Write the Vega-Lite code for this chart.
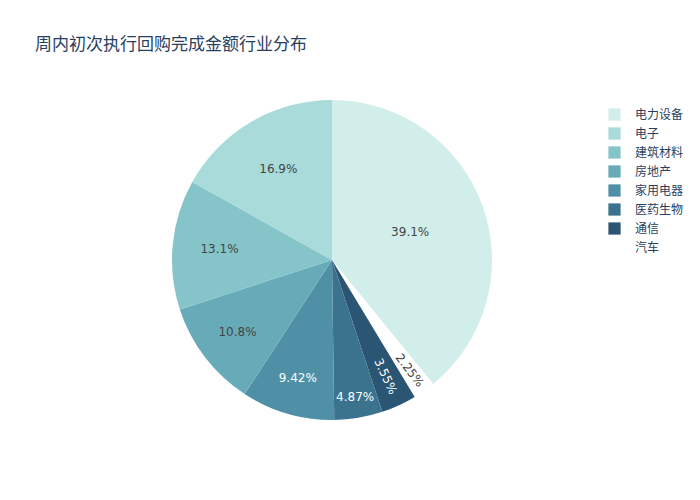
{
  "$schema": "https://vega.github.io/schema/vega-lite/v6.json",
  "description": "周内初次执行回购完成金额行业分布",
  "background": "white",
  "autosize": "none",
  "width": 400,
  "height": 400,
  "padding": {"left": 132, "top": 60, "right": 168, "bottom": 40},
  "title": {
    "text": "周内初次执行回购完成金额行业分布",
    "anchor": "start",
    "frame": "group",
    "dx": -97,
    "dy": -2,
    "font": "Noto Sans CJK SC",
    "fontSize": 17,
    "fontWeight": "normal",
    "color": "#2a3f5f"
  },
  "data": {
    "values": [
      {"industry": "电力设备", "share": 39.1, "order": 1, "label": "39.1%"},
      {"industry": "汽车", "share": 2.25, "order": 2, "label": "2.25%"},
      {"industry": "通信", "share": 3.55, "order": 3, "label": "3.55%"},
      {"industry": "医药生物", "share": 4.87, "order": 4, "label": "4.87%"},
      {"industry": "家用电器", "share": 9.42, "order": 5, "label": "9.42%"},
      {"industry": "房地产", "share": 10.8, "order": 6, "label": "10.8%"},
      {"industry": "建筑材料", "share": 13.1, "order": 7, "label": "13.1%"},
      {"industry": "电子", "share": 16.9, "order": 8, "label": "16.9%"}
    ]
  },
  "encoding": {
    "theta": {"field": "share", "type": "quantitative", "stack": true},
    "order": {"field": "order", "type": "quantitative"}
  },
  "layer": [
    {
      "mark": {"type": "arc", "outerRadius": 160, "stroke": null},
      "encoding": {
        "color": {
          "field": "industry",
          "type": "nominal",
          "scale": {
            "domain": ["电力设备", "电子", "建筑材料", "房地产", "家用电器", "医药生物", "通信", "汽车"],
            "range": ["#d1eeea", "#a8dbd9", "#85c4c9", "#68abb8", "#4f90a6", "#3b738f", "#2a5674", "#ffffff"]
          },
          "legend": {
            "title": null,
            "orient": "none",
            "legendX": 476,
            "legendY": 48,
            "symbolType": "square",
            "symbolSize": 150,
            "symbolStrokeWidth": 0,
            "labelFont": "Noto Sans CJK SC",
            "labelFontSize": 12,
            "labelColor": "#2a3f5f",
            "labelOffset": 14,
            "rowPadding": 6
          }
        }
      }
    },
    {
      "mark": {
        "type": "text",
        "font": "DejaVu Sans",
        "fontSize": 12,
        "radius": {"expr": "datum.industry === '电力设备' ? 83 : datum.industry === '电子' ? 106 : datum.industry === '建筑材料' ? 113 : datum.industry === '房地产' ? 119 : datum.industry === '家用电器' ? 123 : datum.industry === '医药生物' ? 139 : datum.industry === '通信' ? 128 : 135"}
      },
      "encoding": {
        "text": {"field": "label"},
        "angle": {
          "condition": [
            {"test": "datum.industry === '通信'", "value": 65},
            {"test": "datum.industry === '汽车'", "value": 53}
          ],
          "value": 0
        },
        "color": {
          "condition": {"test": "indexof(['家用电器', '医药生物', '通信'], datum.industry) >= 0", "value": "#ffffff"},
          "value": "#444444"
        }
      }
    }
  ]
}
